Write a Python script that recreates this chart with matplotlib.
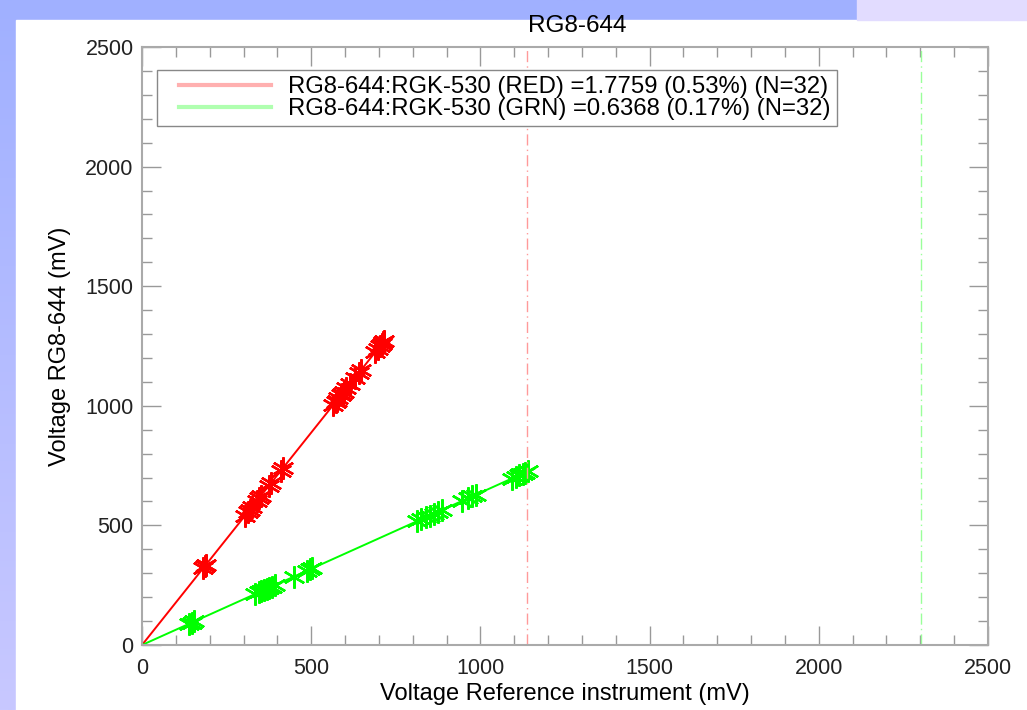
import matplotlib
matplotlib.use("Agg")
import matplotlib.pyplot as plt
import numpy as np
from matplotlib.patches import Rectangle
from matplotlib.legend_handler import HandlerLine2D

# Data
red_x = [180, 185, 188, 305, 312, 318, 325, 340, 346, 352, 375, 380, 410, 416,
         565, 572, 575, 580, 588, 592, 596, 604, 615, 630, 640, 648,
         690, 697, 703, 708, 713, 716]
red_y = [320, 330, 333, 540, 556, 563, 578, 602, 616, 624, 664, 676, 728, 740,
         1002, 1016, 1020, 1031, 1044, 1050, 1058, 1073, 1092, 1118, 1138, 1150,
         1226, 1238, 1249, 1258, 1266, 1271]
grn_x = [140, 148, 155, 335, 345, 352, 360, 368, 375, 383, 392, 448,
         488, 496, 503, 812, 825, 838, 850, 862, 875, 888,
         945, 962, 975, 988, 1092, 1105, 1115, 1125, 1133, 1140]
grn_y = [89, 94, 99, 213, 220, 224, 229, 234, 239, 244, 250, 285,
         311, 316, 320, 517, 525, 534, 541, 549, 557, 565,
         602, 613, 621, 629, 695, 704, 710, 716, 721, 726]
red_ratio = 1.7759
grn_ratio = 0.6368
red_vline = 1139
grn_vline = 2302
labels = ["RG8-644:RGK-530 (RED) =1.7759 (0.53%) (N=32)",
          "RG8-644:RGK-530 (GRN) =0.6368 (0.17%) (N=32)"]

plt.rcParams['font.family'] = ['Liberation Sans', 'DejaVu Sans']

fig = plt.figure(figsize=(10.27, 7.10), dpi=100)

# slide-like background: gradient strip on the left and top
bg = fig.add_axes([0, 0, 1, 1], zorder=-2)
grad = np.linspace(0, 1, 256).reshape(-1, 1)
bg.imshow(grad, aspect='auto', extent=[0, 1, 0, 1],
          cmap=matplotlib.colors.LinearSegmentedColormap.from_list('bg', ['#c8c8ff', '#a0b0ff']),
          origin='lower')
bg.add_patch(Rectangle((16 / 1027, 0), 1, 690 / 710, color='white'))
bg.add_patch(Rectangle((857 / 1027, 690 / 710), 1, 1, color='#e2dcff'))
bg.set_xlim(0, 1)
bg.set_ylim(0, 1)
bg.axis('off')

ax = fig.add_axes([142 / 1027, 65 / 710, 846 / 1027, 598 / 710])

star = (6, 2, 0)
ax.plot(red_x, red_y, linestyle='none', marker=star, markersize=16,
        markeredgewidth=1.7, color='#ff0000')
ax.plot(grn_x, grn_y, linestyle='none', marker=star, markersize=16,
        markeredgewidth=1.7, color='#00ff00')

# fitted lines through origin
rx = np.array([0, max(red_x)])
gx = np.array([0, max(grn_x)])
ax.plot(rx, red_ratio * rx, color='#ff0000', lw=1.4)
ax.plot(gx, grn_ratio * gx, color='#00ff00', lw=1.4)

ax.axvline(red_vline, color='#ff9a9a', lw=1, linestyle=(0, (8, 3, 1, 3)))
ax.axvline(grn_vline, color='#9aff9a', lw=1, linestyle=(0, (8, 3, 1, 3)))

# legend handles, padded so the line sits away from the frame
h1, = ax.plot([], [], color='#ffb0b0', lw=3)
h2, = ax.plot([], [], color='#b0ffb0', lw=3)
pad_handler = HandlerLine2D(numpoints=2, marker_pad=0.68)
leg = ax.legend([h1, h2], labels, loc='upper left', fontsize=17.2,
                handlelength=5.2, handletextpad=0.05, borderpad=0.25,
                borderaxespad=0, labelspacing=0.0, fancybox=False,
                framealpha=1, bbox_to_anchor=(15 / 846, 1 - 23 / 598),
                handler_map={h1: pad_handler, h2: pad_handler})
leg.get_frame().set_edgecolor('#888888')
leg.get_frame().set_linewidth(1)

ax.set_xlim(0, 2500)
ax.set_ylim(0, 2500)
ax.set_xticks(np.arange(0, 2501, 500))
ax.set_yticks(np.arange(0, 2501, 500))
ax.set_xticks(np.arange(0, 2501, 100), minor=True)
ax.set_yticks(np.arange(0, 2501, 100), minor=True)
ax.tick_params(which='both', direction='in', top=True, right=True,
               color='#999999', labelsize=15.5, labelcolor='#222222')
ax.tick_params(which='major', length=14, width=1, pad=6)
ax.tick_params(which='minor', length=7, width=1)
ax.tick_params(axis='x', which='major', pad=9)
for s in ax.spines.values():
    s.set_color('#aaaaaa')
    s.set_linewidth(1.5)

ax.set_title('RG8-644', fontsize=17.5, pad=11, x=0.515)
ax.set_xlabel('Voltage Reference instrument (mV)', fontsize=17, labelpad=3)
ax.set_ylabel('Voltage RG8-644 (mV)', fontsize=17, labelpad=10)

fig.savefig('out.png', dpi=100)
